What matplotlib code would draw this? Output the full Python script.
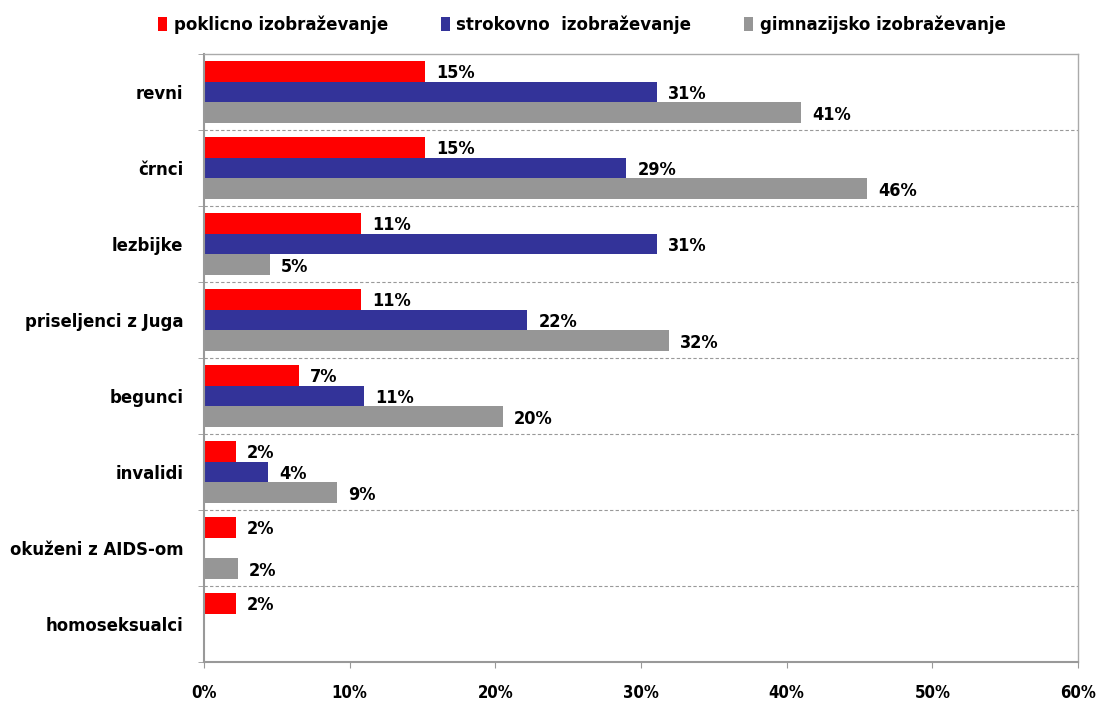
import matplotlib.pyplot as plt
import numpy as np

plt.rcParams['font.family'] = ['DejaVu Sans']
plt.rcParams['font.stretch'] = 'condensed'

categories = ['revni', 'črnci', 'lezbijke', 'priseljenci z Juga', 'begunci',
              'invalidi', 'okuženi z AIDS-om', 'homoseksualci']
series_names = ['poklicno izobraževanje', 'strokovno  izobraževanje', 'gimnazijsko izobraževanje']
colors = ['#FF0000', '#333399', '#969696']

poklicno = [15.2, 15.2, 10.8, 10.8, 6.5, 2.2, 2.2, 2.2]
strokovno = [31.1, 29.0, 31.1, 22.2, 11.0, 4.4, 0.0, 0.0]
gimnazijsko = [41.0, 45.5, 4.5, 31.9, 20.5, 9.1, 2.3, 0.0]

labels_poklicno = ['15%', '15%', '11%', '11%', '7%', '2%', '2%', '2%']
labels_strokovno = ['31%', '29%', '31%', '22%', '11%', '4%', '', '']
labels_gimnazijsko = ['41%', '46%', '5%', '32%', '20%', '9%', '2%', '']

xticks = [0, 10, 20, 30, 40, 50, 60]
xtick_labels = ['0%', '10%', '20%', '30%', '40%', '50%', '60%']

fig = plt.figure(figsize=(10.99, 7.02), dpi=100)
ax = fig.add_axes([204 / 1099, 1 - 662 / 702, (1078 - 204) / 1099, (662 - 54) / 702])

y = np.arange(len(categories))
h = 0.272
all_vals = [poklicno, strokovno, gimnazijsko]
all_labels = [labels_poklicno, labels_strokovno, labels_gimnazijsko]
for i, (vals, labs) in enumerate(zip(all_vals, all_labels)):
    bars = ax.barh(y + (i - 1) * h, vals, height=h, color=colors[i],
                   label=series_names[i], edgecolor='none')
    for bar, lab in zip(bars, labs):
        if lab:
            ax.annotate(lab, xy=(bar.get_width(), bar.get_y() + bar.get_height() / 2),
                        xytext=(8, -1.5), textcoords='offset points',
                        ha='left', va='center', fontsize=13, fontweight='bold')

# dashed separators between categories
for b in np.arange(0.5, len(categories) - 0.5, 1):
    ax.axhline(b, color='#999999', lw=0.8, ls=(0, (3, 2)), zorder=0)

ax.set_xlim(0, 60)
ax.set_ylim(len(categories) - 0.5, -0.5)
ax.set_xticks(xticks)
ax.set_xticklabels(xtick_labels, fontsize=12, fontweight='bold')
ax.set_yticks(y)
ax.set_yticklabels(categories, fontsize=13.2, fontweight='bold')
ax.tick_params(axis='y', length=0, pad=15)
ax.set_yticks(np.arange(-0.5, len(categories), 1), minor=True)
ax.tick_params(axis='y', which='minor', length=4, color='#999999')
ax.tick_params(axis='x', length=4, color='#999999', pad=12)

for s in ['left', 'bottom']:
    ax.spines[s].set_color('#999999')
    ax.spines[s].set_linewidth(1.5)
for s in ['top', 'right']:
    ax.spines[s].set_color('#AAAAAA')
    ax.spines[s].set_linewidth(1.0)

fig.legend(loc='center left', bbox_to_anchor=(158 / 1099, 1 - 25 / 702), ncol=3, frameon=False,
           prop={'size': 13.3, 'weight': 'bold', 'stretch': 'condensed'},
           handlelength=0.5, handleheight=0.8, handletextpad=0.35,
           columnspacing=2.85, borderpad=0, borderaxespad=0)

fig.savefig('out.png', dpi=100, facecolor='white')
